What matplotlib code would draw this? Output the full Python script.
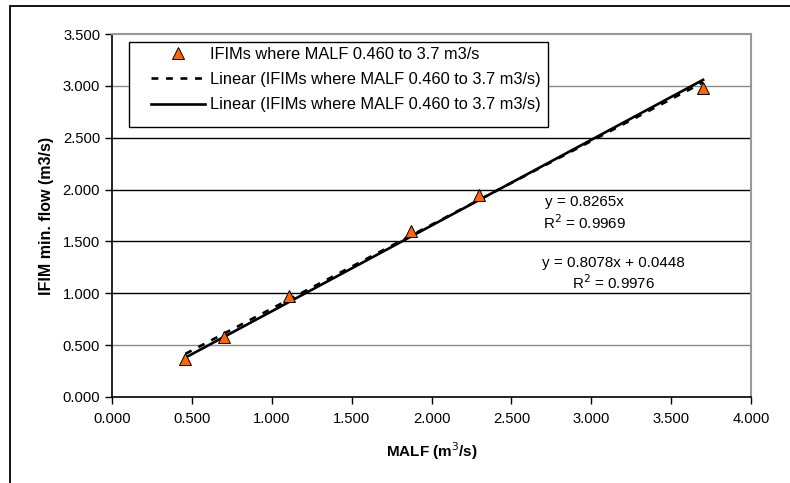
import matplotlib
matplotlib.use("Agg")
import matplotlib.pyplot as plt
import numpy as np
from matplotlib.patches import Rectangle

plt.rcParams['font.family'] = ['Liberation Sans', 'DejaVu Sans']

malf = [0.46, 0.70, 1.11, 1.87, 2.30, 3.70]
ifim = [0.37, 0.58, 0.97, 1.60, 1.95, 2.98]

slope_origin = 0.8265
r2_origin = 0.9969
slope_int = 0.8078
intercept_int = 0.0448
r2_int = 0.9976

series_label = "IFIMs where MALF 0.460 to 3.7 m3/s"
xticks = [0.0, 0.5, 1.0, 1.5, 2.0, 2.5, 3.0, 3.5, 4.0]
yticks = [0.0, 0.5, 1.0, 1.5, 2.0, 2.5, 3.0, 3.5]

W, H = 790, 483
fig = plt.figure(figsize=(W / 100, H / 100), dpi=100)
# outer chart border
fig.patches.append(Rectangle((10 / W, -0.1), 1.2, (1 - 6 / H) + 0.1, transform=fig.transFigure,
                             fill=False, edgecolor='black', linewidth=1.3))

ax = fig.add_axes([112 / W, 1 - 397 / H, (751 - 112) / W, (397 - 34) / H])
ax.set_xlim(0, 4.0)
ax.set_ylim(0, 3.5)

grid_colors = {0.5: '#8a8a8a', 3.0: '#8a8a8a'}
for y in yticks[1:-1]:
    ax.axhline(y, color=grid_colors.get(y, 'black'), linewidth=1.0, zorder=1)

xs = np.array([min(malf), max(malf)])
ax.plot(xs, slope_int * xs + intercept_int, color='black', linestyle=(0, (2.6, 2.9)),
        linewidth=1.9, zorder=3, label="Linear (" + series_label + ")")
ax.plot(xs, slope_origin * xs, color='black', linestyle='-', linewidth=1.9, zorder=3,
        label="Linear (" + series_label + ")")
ax.plot(malf, ifim, linestyle='none', marker='^', markersize=8.5, markerfacecolor='#FF6600',
        markeredgecolor='black', markeredgewidth=0.7, zorder=4, label=series_label)

ax.set_xticks(xticks)
ax.set_yticks(yticks)
ax.set_xticklabels([f"{v:.3f}" for v in xticks])
ax.set_yticklabels([f"{v:.3f}" for v in yticks])
ax.tick_params(axis='both', labelsize=10.6, direction='out', length=5, width=1, color='black')
ax.tick_params(axis='x', pad=6)

for s in ['left', 'bottom']:
    ax.spines[s].set_color('black')
    ax.spines[s].set_linewidth(1.2)
for s in ['top', 'right']:
    ax.spines[s].set_color('#999999')
    ax.spines[s].set_linewidth(1.5)

ax.set_xlabel("MALF (m$^{3}$/s)", fontsize=11, fontweight='bold', labelpad=10)
ax.set_ylabel("IFIM min. flow (m3/s)", fontsize=11.5, fontweight='bold', labelpad=6)

ax.text(2.956, 1.88, f"y = {slope_origin}x", fontsize=10.9, ha='center', va='center')
ax.text(2.956, 1.68, f"R$^2$ = {r2_origin}", fontsize=10.9, ha='center', va='center')
ax.text(3.14, 1.29, f"y = {slope_int}x + {intercept_int}", fontsize=10.9, ha='center', va='center')
ax.text(3.14, 1.10, f"R$^2$ = {r2_int}", fontsize=10.9, ha='center', va='center')

# legend frame drawn manually
frame = Rectangle((129 / W, 1 - 127 / H), (548 - 129) / W, (127 - 42) / H,
                  transform=fig.transFigure, facecolor='white', edgecolor='black',
                  linewidth=1.0, zorder=5, clip_on=False)
ax.add_patch(frame)

handles, labels = ax.get_legend_handles_labels()
order = [2, 0, 1]
leg = ax.legend([handles[i] for i in order], [labels[i] for i in order],
                loc='upper left', bbox_to_anchor=(151 / W, 1 - 47 / H),
                bbox_transform=fig.transFigure,
                fontsize=11.8, frameon=False, borderpad=0, handlelength=3.3,
                handletextpad=0.3, labelspacing=0.62, borderaxespad=0)
leg.set_zorder(6)

fig.savefig("out.png", dpi=100)
